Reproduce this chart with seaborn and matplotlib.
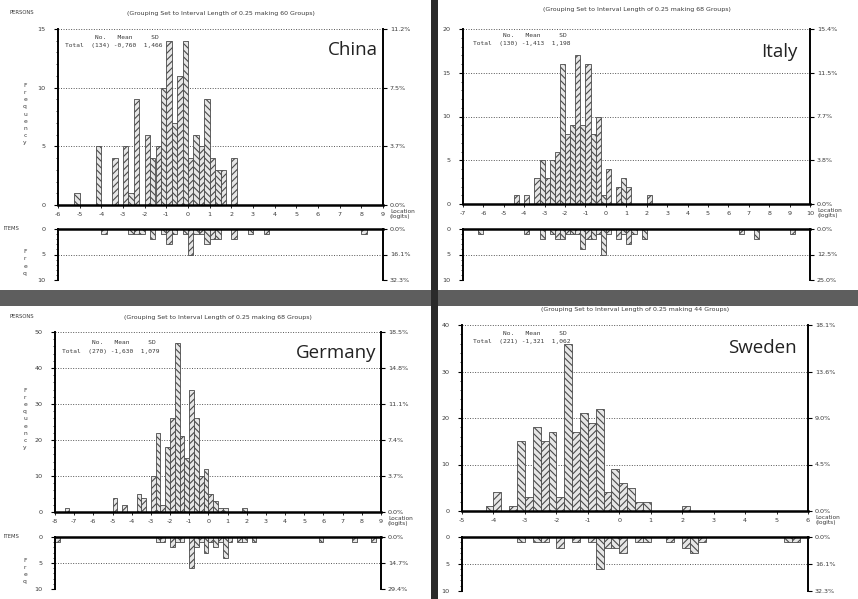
import numpy as np
import pandas as pd
import matplotlib
matplotlib.use("Agg")
import matplotlib.pyplot as plt
from matplotlib.patches import Rectangle
from matplotlib.ticker import MultipleLocator
import seaborn as sns

# ---------------- data (left edge of each 0.25-logit group, count) ----------------
china_person_bins = [-5.25, -4.25, -3.5, -3.0, -2.75, -2.5, -2.0, -1.75, -1.5, -1.25, -1.0,
                     -0.75, -0.5, -0.25, 0.0, 0.25, 0.5, 0.75, 1.0, 1.25, 1.5, 2.0]
china_person_counts = [1, 5, 4, 5, 1, 9, 6, 4, 5, 10, 14, 7, 11, 14, 4, 6, 5, 9, 4, 3, 3, 4]
china_item_bins = [-4.0, -2.75, -2.5, -2.25, -1.75, -1.25, -1.0, -0.75, -0.25, 0.0, 0.25,
                   0.5, 0.75, 1.0, 1.25, 2.0, 2.75, 3.5, 8.0]
china_item_counts = [1, 1, 1, 1, 2, 1, 3, 1, 1, 5, 1, 1, 3, 2, 2, 2, 1, 1, 1]

italy_person_bins = [-4.5, -4.0, -3.5, -3.25, -3.0, -2.75, -2.5, -2.25, -2.0, -1.75, -1.5,
                     -1.25, -1.0, -0.75, -0.5, -0.25, 0.0, 0.5, 0.75, 1.0, 2.0]
italy_person_counts = [1, 1, 3, 5, 3, 5, 6, 16, 8, 9, 17, 9, 16, 8, 10, 1, 4, 2, 3, 2, 1]
italy_item_bins = [-6.25, -4.0, -3.25, -2.75, -2.5, -2.25, -2.0, -1.75, -1.5, -1.25, -1.0,
                   -0.75, -0.5, -0.25, 0.0, 0.5, 0.75, 1.0, 1.25, 1.75, 6.5, 7.25, 9.0]
italy_item_counts = [1, 1, 2, 1, 2, 2, 1, 1, 1, 4, 2, 2, 1, 5, 1, 2, 1, 3, 1, 2, 1, 2, 1]

germany_person_bins = [-7.5, -5.0, -4.5, -3.75, -3.5, -3.0, -2.75, -2.5, -2.25, -2.0, -1.75,
                       -1.5, -1.25, -1.0, -0.75, -0.5, -0.25, 0.0, 0.25, 0.5, 0.75, 1.75]
germany_person_counts = [1, 4, 2, 5, 4, 10, 22, 2, 18, 26, 47, 21, 15, 34, 26, 10, 12, 5, 3, 1, 1, 1]
germany_item_bins = [-8.0, -2.75, -2.5, -2.0, -1.75, -1.5, -1.0, -0.75, -0.5, -0.25, 0.0,
                     0.25, 0.5, 0.75, 1.0, 1.5, 1.75, 2.25, 5.75, 7.5, 8.5]
germany_item_counts = [1, 1, 1, 2, 1, 1, 6, 2, 1, 3, 1, 2, 1, 4, 1, 1, 1, 1, 1, 1, 1]

sweden_person_bins = [-4.25, -4.0, -3.5, -3.25, -3.0, -2.75, -2.5, -2.25, -2.0, -1.75, -1.5,
                      -1.25, -1.0, -0.75, -0.5, -0.25, 0.0, 0.25, 0.5, 0.75, 2.0]
sweden_person_counts = [1, 4, 1, 15, 3, 18, 15, 17, 3, 36, 17, 21, 19, 22, 4, 9, 6, 5, 2, 2, 1]
sweden_item_bins = [-3.25, -2.75, -2.5, -2.0, -1.5, -1.0, -0.75, -0.5, -0.25, 0.0, 0.5,
                    0.75, 1.5, 2.0, 2.25, 2.5, 5.25, 5.5]
sweden_item_counts = [1, 1, 1, 2, 1, 1, 6, 2, 2, 3, 1, 1, 1, 2, 3, 1, 1, 1]

countries = ["China", "Italy", "Germany", "Sweden"]
group_counts = [60, 68, 68, 44]
x_ranges = [(-6, 9), (-7, 10), (-8, 9), (-5, 6)]
person_ymax = [15, 20, 50, 40]
person_ystep = [5, 5, 10, 10]
stat_mean = ["-0,760", "-1,413", "-1,630", "-1,321"]
stat_sd = ["1,466", "1,198", "1,079", "1,062"]

# ---------------- style ----------------
sns.set_theme(style="white")
plt.rcParams["font.family"] = ["DejaVu Sans"]
plt.rcParams["axes.unicode_minus"] = False
plt.rcParams["hatch.linewidth"] = 0.8
plt.rcParams["hatch.color"] = "#555555"

W, H = 858, 599
INK = "#3a3a3a"
fig = plt.figure(figsize=(W / 100, H / 100), dpi=100)
fig.patch.set_facecolor("white")


def px_axes(left, right, top, bottom):
    return fig.add_axes([left / W, 1 - bottom / H, (right - left) / W, (bottom - top) / H])


def hist(ax, bins, counts, xmin, xmax):
    x = np.asarray(bins, dtype=float) + 0.125
    w = np.asarray(counts, dtype=float)
    parity = np.round((np.asarray(bins) - xmin) / 0.25).astype(int) % 2
    for par, hatch in [(0, "/////"), (1, "\\\\\\\\\\")]:
        sel = parity == par
        df = pd.DataFrame({"x": x[sel], "w": w[sel]})
        sns.histplot(data=df, x="x", weights="w", binwidth=0.25, binrange=(xmin, xmax),
                     ax=ax, color="#e6e6e6", alpha=1, edgecolor="#4a4a4a",
                     hatch=hatch, linewidth=0.6)
    ax.set_xlabel("")
    ax.set_ylabel("")


def dotted_grid(ax):
    ax.grid(axis="y", linestyle=(0, (1, 1.6)), color="#555555", linewidth=0.7)
    ax.grid(axis="x", visible=False)
    ax.set_axisbelow(True)


def right_pct(ax, ticks, lim, N):
    ax2 = ax.twinx()
    ax2.set_ylim(*lim)
    ax2.set_yticks(ticks)
    ax2.set_yticklabels([f"{v / N * 100:.1f}%" for v in ticks])
    ax2.tick_params(axis="y", labelsize=4.6, colors="black", labelcolor=INK, length=3,
                    width=0.8, pad=2)
    for s in ax2.spines.values():
        s.set_visible(False)
    ax2.grid(False)


def panel(k, left, right, ptop, pbot, itop, ibot, title_y, pbins, pcounts, ibins, icounts,
          name_xy, legend_xy, left_labels):
    xmin, xmax = x_ranges[k]
    ymax, ystep = person_ymax[k], person_ystep[k]
    Np = int(np.sum(pcounts))
    Ni = int(np.sum(icounts))

    # ---- persons ----
    axp = px_axes(left, right, ptop, pbot)
    hist(axp, pbins, pcounts, xmin, xmax)
    axp.set_xlim(xmin, xmax)
    axp.set_ylim(0, ymax)
    yt = np.arange(0, ymax + 0.01, ystep)
    axp.set_yticks(yt)
    axp.set_yticklabels([f"{int(v)}" for v in yt])
    axp.yaxis.set_minor_locator(MultipleLocator(ystep / 5))
    xt = np.arange(xmin, xmax + 0.01, 1)
    axp.set_xticks(xt)
    axp.set_xticklabels([f"{int(v)}" for v in xt])
    axp.tick_params(axis="both", labelsize=4.6, colors="black", labelcolor=INK)
    axp.tick_params(axis="y", which="major", left=True, length=3, width=0.8, pad=6)
    axp.tick_params(axis="y", which="minor", left=True, length=1.6, width=0.6)
    axp.tick_params(axis="x", which="major", bottom=True, length=2, width=0.6, pad=3)
    for s in ["left", "right"]:
        axp.spines[s].set_linewidth(1.4)
        axp.spines[s].set_color("black")
    axp.spines["bottom"].set_linewidth(1.8)
    axp.spines["bottom"].set_color("black")
    axp.spines["top"].set_visible(False)
    dotted_grid(axp)
    right_pct(axp, yt, (0, ymax), Np)

    # legend block
    lx, ly = legend_xy
    axp.text(lx, ly + 0.045, "        No.   Mean     SD", transform=axp.transAxes,
             family="DejaVu Sans Mono", fontsize=4.5, color=INK, va="center", ha="left")
    axp.text(lx, ly, f"Total  ({Np}) {stat_mean[k]}  {stat_sd[k]}", transform=axp.transAxes,
             family="DejaVu Sans Mono", fontsize=4.5, color=INK, va="center", ha="left")
    # country label
    axp.text(name_xy[0], name_xy[1], countries[k], transform=axp.transAxes,
             family="Open Sans", fontsize=13.5, color="#222222", ha="right", va="center")

    # title
    fig.text((left + right) / 2 / W, 1 - title_y / H,
             f"(Grouping Set to Interval Length of 0.25 making {group_counts[k]} Groups)",
             fontsize=4.5, color=INK, ha="center", va="center")
    # x-axis name next to the last tick label
    fig.text((right + 7) / W, 1 - (pbot + 9) / H, "Location\n(logits)",
             fontsize=4.2, color=INK, ha="left", va="center", linespacing=1.0)

    # ---- items ----
    axi = px_axes(left, right, itop, ibot)
    hist(axi, ibins, icounts, xmin, xmax)
    axi.set_xlim(xmin, xmax)
    axi.set_ylim(10, 0)
    axi.set_xticks([])
    it = [0, 5, 10]
    axi.set_yticks(it)
    axi.set_yticklabels([str(v) for v in it])
    axi.yaxis.set_minor_locator(MultipleLocator(1))
    axi.tick_params(axis="y", labelsize=4.6, colors="black", labelcolor=INK)
    axi.tick_params(axis="y", which="major", left=True, length=3, width=0.8, pad=6)
    axi.tick_params(axis="y", which="minor", left=True, length=1.6, width=0.6)
    for s in ["left", "right"]:
        axi.spines[s].set_linewidth(1.4)
        axi.spines[s].set_color("black")
    axi.spines["top"].set_linewidth(1.8)
    axi.spines["top"].set_color("black")
    axi.spines["bottom"].set_visible(False)
    dotted_grid(axi)
    right_pct(axi, it, (10, 0), Ni)

    if left_labels:
        fig.text(9 / W, 1 - (ptop - 16) / H, "PERSONS", fontsize=3.8, color=INK, ha="left", va="center")
        fig.text(3 / W, 1 - itop / H, "ITEMS", fontsize=3.8, color=INK, ha="left", va="center")
        fig.text(25 / W, 1 - ((ptop + pbot) / 2 - 3) / H, "\n".join("Frequency"), fontsize=4.3,
                 color=INK, ha="center", va="center", linespacing=1.55)
        fig.text(25 / W, 1 - ((itop + ibot) / 2 + 8) / H, "\n".join("Freq"), fontsize=4.3,
                 color=INK, ha="center", va="center", linespacing=1.55)


panel(0, 58, 383, 29, 205, 229, 280, 13, china_person_bins, china_person_counts,
      china_item_bins, china_item_counts, (0.985, 0.88), (0.022, 0.909), True)
panel(1, 463, 810, 29, 204, 229, 280, 10, italy_person_bins, italy_person_counts,
      italy_item_bins, italy_item_counts, (0.963, 0.87), (0.029, 0.92), False)
panel(2, 55, 381, 332, 512, 537, 589, 318, germany_person_bins, germany_person_counts,
      germany_item_bins, germany_item_counts, (0.985, 0.883), (0.021, 0.894), True)
panel(3, 462, 808, 325, 511, 537, 591, 310, sweden_person_bins, sweden_person_counts,
      sweden_item_bins, sweden_item_counts, (0.968, 0.876), (0.032, 0.909), False)

# scan separators
fig.patches.append(Rectangle((0, 1 - 306 / H), 1, 16 / H, transform=fig.transFigure,
                             facecolor="#5e5e5e", edgecolor="none", zorder=5))
fig.patches.append(Rectangle((431 / W, 0), 7 / W, 1, transform=fig.transFigure,
                             facecolor="#2a2a2a", edgecolor="none", zorder=6))

fig.savefig("out.png", dpi=100, facecolor="white")
